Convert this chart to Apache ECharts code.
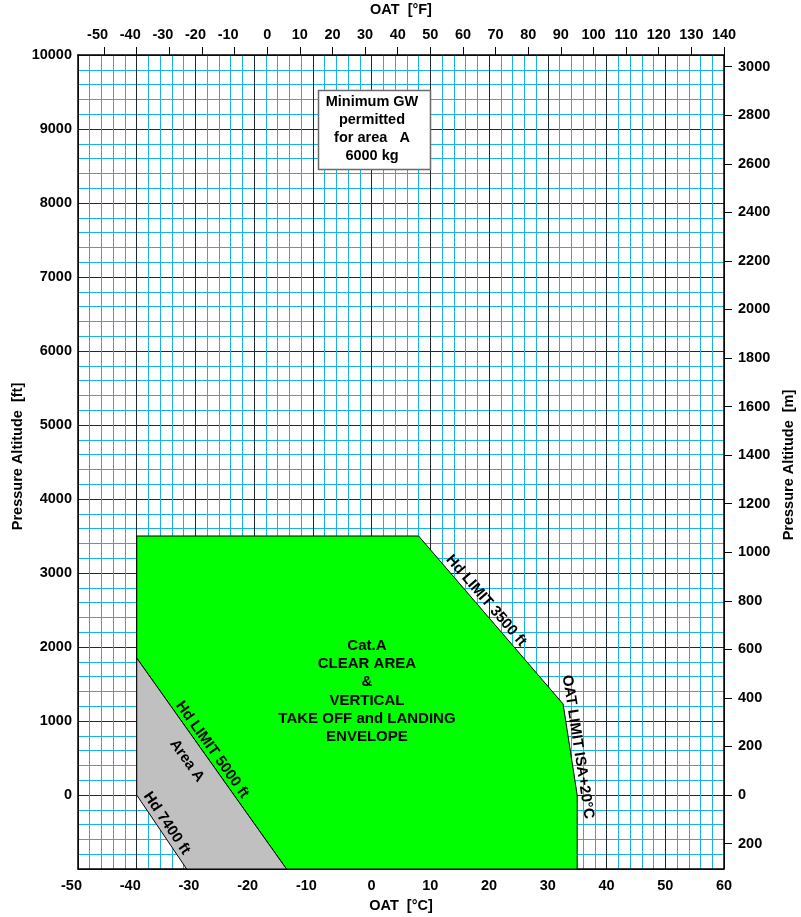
<!DOCTYPE html>
<html>
<head>
<meta charset="utf-8">
<title>Cat.A Clear Area &amp; Vertical Take Off and Landing Envelope</title>
<script src="https://cdn.jsdelivr.net/npm/echarts@6/dist/echarts.min.js"></script>
<style>
  html, body { margin: 0; padding: 0; background: #ffffff; }
  #chart { width: 801px; height: 917px; }
</style>
</head>
<body>
<div id="chart"></div>
<script>
// ---- Scales -------------------------------------------------------------
const oatCelsiusRange = [-50, 60];          // bottom axis, °C
const altitudeFtRange = [-1000, 10000];     // left axis, ft
const oatFahrenheitLabels = [-50, -40, -30, -20, -10, 0, 10, 20, 30, 40, 50, 60, 70, 80, 90, 100, 110, 120, 130, 140];
const altitudeMetreLabels = [-200, 0, 200, 400, 600, 800, 1000, 1200, 1400, 1600, 1800, 2000, 2200, 2400, 2600, 2800, 3000];

// ---- Envelope outlines (OAT °C, pressure altitude ft) ------------------
const envelopeOat = [-40, 8, 32.6, 35, 35, -14.5, -40];
const envelopeAlt = [3500, 3500, 1230, 0, -1000, -1000, 1850];

const areaAOat = [-40, -14.5, -31.5, -40];
const areaAAlt = [1850, -1000, -1000, 0];

// ---- Texts ----------------------------------------------------------------
const envelopeTitle = ['Cat.A', 'CLEAR AREA', '&', 'VERTICAL', 'TAKE OFF and LANDING', 'ENVELOPE'];
const envelopeTitleAt = [-0.8, 1400];
const gwNote = ['Minimum GW', 'permitted', 'for area   A', '6000 kg'];
const gwNoteAt = [0.4, 9000];

const FONT = '"Liberation Sans", Arial, Helvetica, sans-serif';
const INK = '#000000';
const MAJOR = '#1b2a33';
const MINOR = '#19b2e6';

const cToF = c => c * 9 / 5 + 32;
const FT_TO_M = 0.3048;

const tickLabel = {
  color: INK, fontFamily: FONT, fontWeight: 'bold', fontSize: 14.5
};
const negRich = {
  neg: { color: INK, fontFamily: FONT, fontWeight: 'bold', fontSize: 14.5, padding: [0, 13, 0, 0] }
};
const signedLabel = v => (v < 0 ? '{neg|' + v + '}' : String(v));

const nameStyle = { color: INK, fontFamily: FONT, fontWeight: 'bold', fontSize: 14.5 };

// Rotated labels that run along an outline segment.
// seg: [oatArray, altArray, fromIndex, toIndex]; t: position along; off: px to the upper side
const edgeLabels = [
  { text: 'Hd LIMIT 5000 ft', seg: [areaAOat, areaAAlt, 0, 1], t: 0.458, off: 1, va: 'bottom' },
  { text: 'Area A', seg: [areaAOat, areaAAlt, 0, 1], t: 0.436, off: -18.5, va: 'middle' },
  { text: 'Hd 7400 ft', seg: [areaAOat, areaAAlt, 3, 2], t: 0.45, off: 1.5, va: 'bottom' },
  { text: 'Hd LIMIT 3500 ft', seg: [envelopeOat, envelopeAlt, 1, 2], t: 0.42, off: 1.5, va: 'bottom' },
  { text: 'OAT LIMIT ISA+20°C', seg: [envelopeOat, envelopeAlt, 2, 3], t: 0.485, off: 0.5, va: 'bottom' }
];

function polygonSeries(name, xs, ys, fill) {
  return {
    type: 'custom',
    name: name,
    xAxisIndex: 0,
    yAxisIndex: 0,
    clip: false,
    silent: true,
    z: 3,
    data: [[xs[0], ys[0]]],
    renderItem: function (params, api) {
      const pts = xs.map((x, i) => api.coord([x, ys[i]]));
      return {
        type: 'polygon',
        shape: { points: pts },
        style: { fill: fill, stroke: INK, lineWidth: 1 }
      };
    }
  };
}

const annotationSeries = {
  type: 'custom',
  name: 'annotations',
  xAxisIndex: 0,
  yAxisIndex: 0,
  clip: false,
  silent: true,
  z: 5,
  data: [[0, 0]],
  renderItem: function (params, api) {
    const children = [];

    // Rotated edge labels
    edgeLabels.forEach(function (lb) {
      const xs = lb.seg[0], ys = lb.seg[1];
      const p1 = api.coord([xs[lb.seg[2]], ys[lb.seg[2]]]);
      const p2 = api.coord([xs[lb.seg[3]], ys[lb.seg[3]]]);
      const dx = p2[0] - p1[0], dy = p2[1] - p1[1];
      const len = Math.sqrt(dx * dx + dy * dy);
      const nx = dy / len, ny = -dx / len;
      children.push({
        type: 'text',
        x: p1[0] + lb.t * dx + lb.off * nx,
        y: p1[1] + lb.t * dy + lb.off * ny,
        rotation: -Math.atan2(dy, dx),
        style: {
          text: lb.text, fill: INK, fontFamily: FONT, fontWeight: 'bold', fontSize: 15,
          align: 'center', verticalAlign: lb.va
        }
      });
    });

    // Envelope title
    const c = api.coord(envelopeTitleAt);
    children.push({
      type: 'text', x: c[0], y: c[1],
      style: {
        text: envelopeTitle.join('\n'), fill: INK, fontFamily: FONT, fontWeight: 'bold',
        fontSize: 15, lineHeight: 18.2, align: 'center', verticalAlign: 'middle'
      }
    });

    // Minimum GW note box
    const b = api.coord(gwNoteAt);
    children.push({
      type: 'rect',
      shape: { x: Math.round(b[0] - 56) + 0.5, y: Math.round(b[1] - 39.5) + 0.5, width: 112, height: 79 },
      style: { fill: '#ffffff', stroke: '#6a6a6a', lineWidth: 1.5 }
    });
    children.push({
      type: 'text', x: b[0] - 2, y: b[1],
      style: {
        text: gwNote.join('\n'), fill: INK, fontFamily: FONT, fontWeight: 'bold',
        fontSize: 14.5, lineHeight: 18.2, align: 'center', verticalAlign: 'middle'
      }
    });

    return { type: 'group', children: children };
  }
};

const chart = echarts.init(document.getElementById('chart'), null, { renderer: 'canvas' });

chart.setOption({
  backgroundColor: '#ffffff',
  animation: false,
  grid: { left: 78, right: 77, top: 55, bottom: 48, containLabel: false, outerBoundsMode: 'none' },
  xAxis: [
    {
      type: 'value',
      position: 'bottom',
      min: oatCelsiusRange[0],
      max: oatCelsiusRange[1],
      interval: 10,
      name: 'OAT  [°C]',
      nameLocation: 'middle',
      nameGap: 29,
      nameTextStyle: nameStyle,
      axisLine: { show: true, onZero: false, lineStyle: { color: INK, width: 1.5 } },
      axisTick: { show: false },
      axisLabel: Object.assign({ margin: 9, formatter: signedLabel, rich: negRich }, tickLabel),
      splitLine: { show: true, lineStyle: { color: MAJOR, width: 1 } },
      minorTick: { show: false, splitNumber: 5 },
      minorSplitLine: { show: true, lineStyle: { color: MINOR, width: 1 } }
    },
    {
      type: 'value',
      position: 'top',
      min: cToF(oatCelsiusRange[0]),
      max: cToF(oatCelsiusRange[1]),
      name: 'OAT  [°F]',
      nameLocation: 'middle',
      nameGap: 38,
      nameTextStyle: nameStyle,
      axisLine: { show: true, onZero: false, lineStyle: { color: INK, width: 1.5 } },
      axisTick: { show: true, inside: false, length: 8, customValues: oatFahrenheitLabels, lineStyle: { color: INK, width: 1 } },
      axisLabel: Object.assign({ margin: 13, customValues: oatFahrenheitLabels, formatter: signedLabel, rich: negRich }, tickLabel),
      splitLine: { show: false }
    }
  ],
  yAxis: [
    {
      type: 'value',
      position: 'left',
      min: altitudeFtRange[0],
      max: altitudeFtRange[1],
      interval: 1000,
      name: 'Pressure Altitude  [ft]',
      nameLocation: 'middle',
      nameGap: 53,
      nameMoveOverlap: false,
      nameRotate: 90,
      nameTextStyle: Object.assign({ padding: [0, 0, 0, 11] }, nameStyle),
      axisLine: { show: true, onZero: false, lineStyle: { color: INK, width: 1.5 } },
      axisTick: { show: false },
      axisLabel: Object.assign({ margin: 6, formatter: v => (v < 0 ? '' : String(v)) }, tickLabel),
      splitLine: { show: true, lineStyle: { color: MAJOR, width: 1 } },
      minorTick: { show: false, splitNumber: 5 },
      minorSplitLine: { show: true, lineStyle: { color: MINOR, width: 1 } }
    },
    {
      type: 'value',
      position: 'right',
      min: altitudeFtRange[0] * FT_TO_M,
      max: altitudeFtRange[1] * FT_TO_M,
      name: 'Pressure Altitude  [m]',
      nameLocation: 'middle',
      nameGap: 57,
      nameRotate: 90,
      nameTextStyle: Object.assign({ padding: [0, 6, 0, 0] }, nameStyle),
      axisLine: { show: true, onZero: false, lineStyle: { color: INK, width: 1.5 } },
      axisTick: { show: true, inside: false, length: 8, customValues: altitudeMetreLabels, lineStyle: { color: INK, width: 1 } },
      axisLabel: Object.assign({ margin: 14, customValues: altitudeMetreLabels, formatter: v => String(Math.abs(Math.round(v))) }, tickLabel),
      splitLine: { show: false }
    }
  ],
  series: [
    polygonSeries('Clear area envelope', envelopeOat, envelopeAlt, '#00ff00'),
    polygonSeries('Area A', areaAOat, areaAAlt, '#c0c0c0'),
    annotationSeries
  ]
});
</script>
</body>
</html>
